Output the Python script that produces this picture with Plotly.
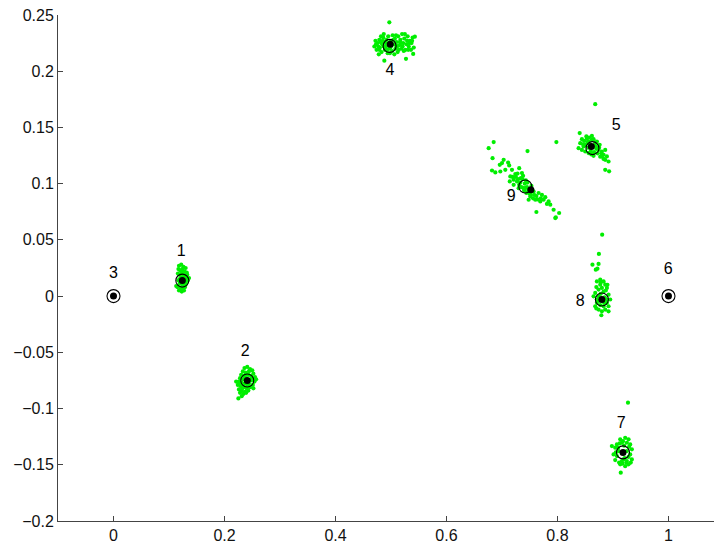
import plotly.graph_objects as go

# ---- data ----
cluster1_pts = [(0.118,0.027),(0.122,0.028),(0.126,0.026),(0.130,0.025),(0.120,0.023),(0.124,0.024),
    (0.128,0.022),(0.132,0.021),(0.116,0.020),(0.119,0.019),(0.123,0.020),(0.127,0.018),(0.131,0.017),
    (0.121,0.016),(0.125,0.017),(0.129,0.015),(0.117,0.014),(0.122,0.013),(0.126,0.012),(0.130,0.013),
    (0.134,0.014),(0.119,0.011),(0.124,0.010),(0.128,0.009),(0.115,0.008),(0.121,0.007),(0.125,0.006),
    (0.129,0.008),(0.118,0.005),(0.123,0.004),(0.127,0.005),(0.120,0.012),(0.126,0.019),(0.131,0.011),
    (0.113,0.009),(0.136,0.016),(0.119,0.015),(0.128,0.018),(0.122,0.022),(0.133,0.019),(0.117,0.024)]
cluster2_pts = [(0.236,-0.064),(0.241,-0.063),(0.246,-0.065),(0.250,-0.066),(0.233,-0.067),(0.238,-0.068),
    (0.244,-0.067),(0.252,-0.069),(0.230,-0.070),(0.235,-0.071),(0.240,-0.070),(0.248,-0.071),(0.255,-0.072),
    (0.228,-0.073),(0.233,-0.074),(0.248,-0.075),(0.254,-0.076),(0.257,-0.074),(0.226,-0.076),(0.231,-0.077),
    (0.236,-0.078),(0.251,-0.079),(0.224,-0.079),(0.229,-0.080),(0.234,-0.081),(0.240,-0.082),(0.246,-0.081),
    (0.226,-0.083),(0.231,-0.084),(0.237,-0.085),(0.243,-0.084),(0.228,-0.086),(0.234,-0.087),(0.239,-0.086),
    (0.221,-0.076),(0.225,-0.091),(0.231,-0.089),(0.244,-0.078),(0.252,-0.082),(0.237,-0.073),
    (0.243,-0.070),(0.229,-0.078),(0.249,-0.073),(0.232,-0.082),(0.241,-0.079)]
cluster4_pts = [(0.470,0.222),(0.474,0.219),(0.476,0.225),(0.479,0.228),(0.480,0.221),(0.483,0.217),
    (0.484,0.224),(0.486,0.230),(0.488,0.226),(0.489,0.219),(0.491,0.222),(0.492,0.228),(0.494,0.216),
    (0.495,0.231),(0.497,0.220),(0.500,0.227),(0.502,0.218),(0.503,0.232),(0.505,0.224),(0.507,0.229),
    (0.508,0.220),(0.510,0.226),(0.512,0.217),(0.513,0.231),(0.515,0.223),(0.517,0.228),(0.519,0.220),
    (0.520,0.233),(0.522,0.225),(0.524,0.229),(0.526,0.219),(0.528,0.224),(0.530,0.231),(0.532,0.222),
    (0.534,0.227),(0.537,0.225),(0.539,0.230),(0.541,0.221),(0.472,0.227),(0.478,0.215),(0.482,0.231),
    (0.496,0.225),(0.506,0.215),(0.511,0.222),(0.518,0.225),(0.525,0.233),(0.536,0.219),(0.497,0.2435),
    (0.488,0.2094),(0.527,0.211),(0.540,0.2154),(0.543,0.2307),(0.485,0.227),(0.499,0.221),(0.514,0.219),
    (0.473,0.224),(0.477,0.222),(0.481,0.226),(0.487,0.222),(0.490,0.225),(0.493,0.219),(0.501,0.223),
    (0.504,0.228),(0.509,0.223),(0.516,0.226),(0.521,0.222),(0.523,0.218),(0.529,0.227),(0.533,0.225),
    (0.531,0.219),(0.487,0.233),(0.509,0.232),(0.498,0.216),(0.479,0.219),(0.538,0.227)]
cluster5_pts = [(0.840,0.145),(0.844,0.1396),(0.852,0.142),(0.862,0.1425),(0.865,0.1396),(0.841,0.136),
    (0.838,0.1316),(0.844,0.130),(0.850,0.1346),(0.856,0.1375),(0.871,0.1375),(0.876,0.1346),(0.874,0.130),
    (0.880,0.1286),(0.886,0.130),(0.883,0.1257),(0.889,0.1242),(0.886,0.1212),(0.892,0.1197),(0.880,0.1242),
    (0.865,0.1248),(0.856,0.1272),(0.850,0.1286),(0.847,0.1331),(0.859,0.1331),(0.854,0.137),(0.868,0.1707),
    (0.886,0.1123),(0.893,0.111),(0.858,0.135),(0.862,0.139),(0.868,0.136),(0.870,0.131),(0.866,0.128),
    (0.860,0.129),(0.872,0.127),(0.877,0.124),(0.853,0.140),(0.848,0.138),
    (0.855,0.132),(0.861,0.126),(0.869,0.133),(0.875,0.132),(0.879,0.127),(0.846,0.135),(0.857,0.141),
    (0.883,0.122)]
cluster7_pts = [(0.922,-0.126),(0.913,-0.1274),(0.928,-0.1274),(0.898,-0.1334),(0.904,-0.1348),(0.907,-0.1319),
    (0.931,-0.1319),(0.934,-0.1363),(0.931,-0.1408),(0.934,-0.1452),(0.928,-0.1496),(0.922,-0.1512),
    (0.913,-0.1496),(0.904,-0.1458),(0.901,-0.1408),(0.907,-0.1423),(0.916,-0.1304),(0.925,-0.1304),
    (0.910,-0.1378),(0.925,-0.1378),(0.919,-0.1452),(0.916,-0.1467),(0.925,-0.1467),(0.927,-0.0948),
    (0.914,-0.157),(0.912,-0.131),(0.920,-0.133),(0.924,-0.148),(0.911,-0.148),
    (0.918,-0.129),(0.909,-0.135),(0.929,-0.134),(0.928,-0.143),(0.905,-0.139),(0.917,-0.149),
    (0.932,-0.148),(0.921,-0.144)]
cluster8_pts = [(0.8805,0.0546),(0.8746,0.0375),(0.863,0.028),(0.874,0.0286),(0.869,0.0235),(0.872,0.0244),
    (0.879,-0.017),(0.871,0.0131),(0.877,0.0146),(0.883,0.0131),(0.886,0.0102),(0.877,0.0102),(0.880,0.0073),
    (0.889,0.0073),(0.874,0.0058),(0.868,0.0028),(0.892,0.0013),(0.865,-0.0002),(0.871,-0.006),(0.889,-0.006),
    (0.892,-0.009),(0.868,-0.009),(0.874,-0.012),(0.886,-0.012),(0.880,-0.0135),(0.892,-0.0135),(0.883,0.004),
    (0.874,-0.0002),(0.889,-0.003),(0.871,-0.003),(0.895,-0.003),(0.883,-0.009),(0.877,-0.008),
    (0.878,0.002),(0.885,-0.001),(0.870,0.008),(0.887,0.005),(0.876,-0.004),(0.884,-0.006),(0.870,-0.011),
    (0.890,0.010),(0.878,0.012)]
cluster9_pts = [(0.676,0.1316),(0.798,0.137),(0.746,0.129),(0.685,0.137),(0.797,0.070),(0.762,0.0748),
    (0.683,0.1227),(0.682,0.1117),(0.688,0.110),(0.696,0.1168),(0.700,0.1183),(0.703,0.1212),(0.711,0.1188),
    (0.713,0.1162),(0.697,0.1108),(0.706,0.1123),(0.718,0.1123),(0.724,0.1085),(0.731,0.1138),(0.736,0.1094),
    (0.715,0.1064),(0.721,0.1035),(0.714,0.102),(0.721,0.099),(0.757,0.093),(0.766,0.0917),(0.772,0.090),
    (0.778,0.088),(0.784,0.0842),(0.775,0.0857),(0.769,0.0842),(0.760,0.0857),(0.748,0.0857),(0.751,0.0886),
    (0.787,0.0813),(0.793,0.0768),(0.803,0.0739),(0.796,0.0694),(0.744,0.0917),(0.739,0.096),
    (0.729,0.104),(0.733,0.101),(0.737,0.104),(0.741,0.100),(0.745,0.097),(0.749,0.095),(0.753,0.098),
    (0.735,0.097),(0.740,0.094),(0.746,0.101),(0.731,0.099),(0.727,0.102),(0.755,0.094),(0.750,0.091),
    (0.738,0.107),(0.725,0.106),(0.730,0.096),(0.734,0.105),(0.743,0.103),(0.747,0.093),(0.752,0.090),
    (0.758,0.090),(0.762,0.089),(0.764,0.086),(0.770,0.087),(0.756,0.087),(0.728,0.109),(0.719,0.106),
    (0.742,0.096),(0.781,0.082)]

ring_x = [0.124, 0.241, 0.0, 0.4975, 0.863, 1.0, 0.918, 0.880, 0.742]
ring_y = [0.0138, -0.075, 0.0, 0.2225, 0.1316, 0.0, -0.139, -0.003, 0.0975]
dot_x = [0.124, 0.241, 0.0, 0.4986, 0.861, 1.0, 0.918, 0.880, 0.752]
dot_y = [0.0138, -0.075, 0.0, 0.224, 0.133, 0.0, -0.139, -0.003, 0.0946]

label_text = ["1", "2", "3", "4", "5", "6", "7", "8", "9"]
label_x = [0.122, 0.2375, 0.0, 0.498, 0.906, 0.9995, 0.915, 0.841, 0.7166]
label_y = [0.0395, -0.050, 0.020, 0.2003, 0.1514, 0.0235, -0.114, -0.0049, 0.0884]

x_ticks = [0, 0.2, 0.4, 0.6, 0.8, 1]
x_ticktext = ["0", "0.2", "0.4", "0.6", "0.8", "1"]
y_ticks = [-0.2, -0.15, -0.1, -0.05, 0, 0.05, 0.1, 0.15, 0.2, 0.25]
y_ticktext = ["\u22120.2", "\u22120.15", "\u22120.1", "\u22120.05", "0", "0.05", "0.1", "0.15", "0.2", "0.25"]

# ---- figure ----
green_all = (cluster1_pts + cluster2_pts + cluster4_pts + cluster5_pts +
             cluster7_pts + cluster8_pts + cluster9_pts)
gx = [p[0] for p in green_all]
gy = [p[1] for p in green_all]

fig = go.Figure()
fig.add_trace(go.Scatter(x=gx, y=gy, mode="markers",
                         marker=dict(color="#00ee00", size=4.2, line=dict(width=0)),
                         showlegend=False, hoverinfo="skip"))
fig.add_trace(go.Scatter(x=ring_x, y=ring_y, mode="markers",
                         marker=dict(symbol="circle-open", color="black", size=13,
                                     line=dict(width=1.1, color="black")),
                         showlegend=False))
fig.add_trace(go.Scatter(x=dot_x, y=dot_y, mode="markers",
                         marker=dict(color="black", size=7, line=dict(width=0)),
                         showlegend=False))
fig.add_trace(go.Scatter(x=label_x, y=label_y, mode="text", text=label_text,
                         textfont=dict(family="Liberation Sans, Arial", size=16, color="black"),
                         showlegend=False))

axis_common = dict(showgrid=False, zeroline=False, showline=True, linecolor="#444444",
                   linewidth=1, ticks="inside", ticklen=5, tickcolor="#444444",
                   tickfont=dict(family="Liberation Sans, Arial", size=16, color="#111111"),
                   mirror=False, automargin=False)
fig.update_layout(
    width=714, height=543,
    margin=dict(l=58, r=0, t=15, b=22),
    plot_bgcolor="white", paper_bgcolor="white",
    xaxis=dict(range=[-0.1, 1.082], tickvals=x_ticks, ticktext=x_ticktext, **axis_common),
    yaxis=dict(range=[-0.2, 0.25], tickvals=y_ticks, ticktext=y_ticktext, **axis_common),
)
fig.write_html("out.html")
